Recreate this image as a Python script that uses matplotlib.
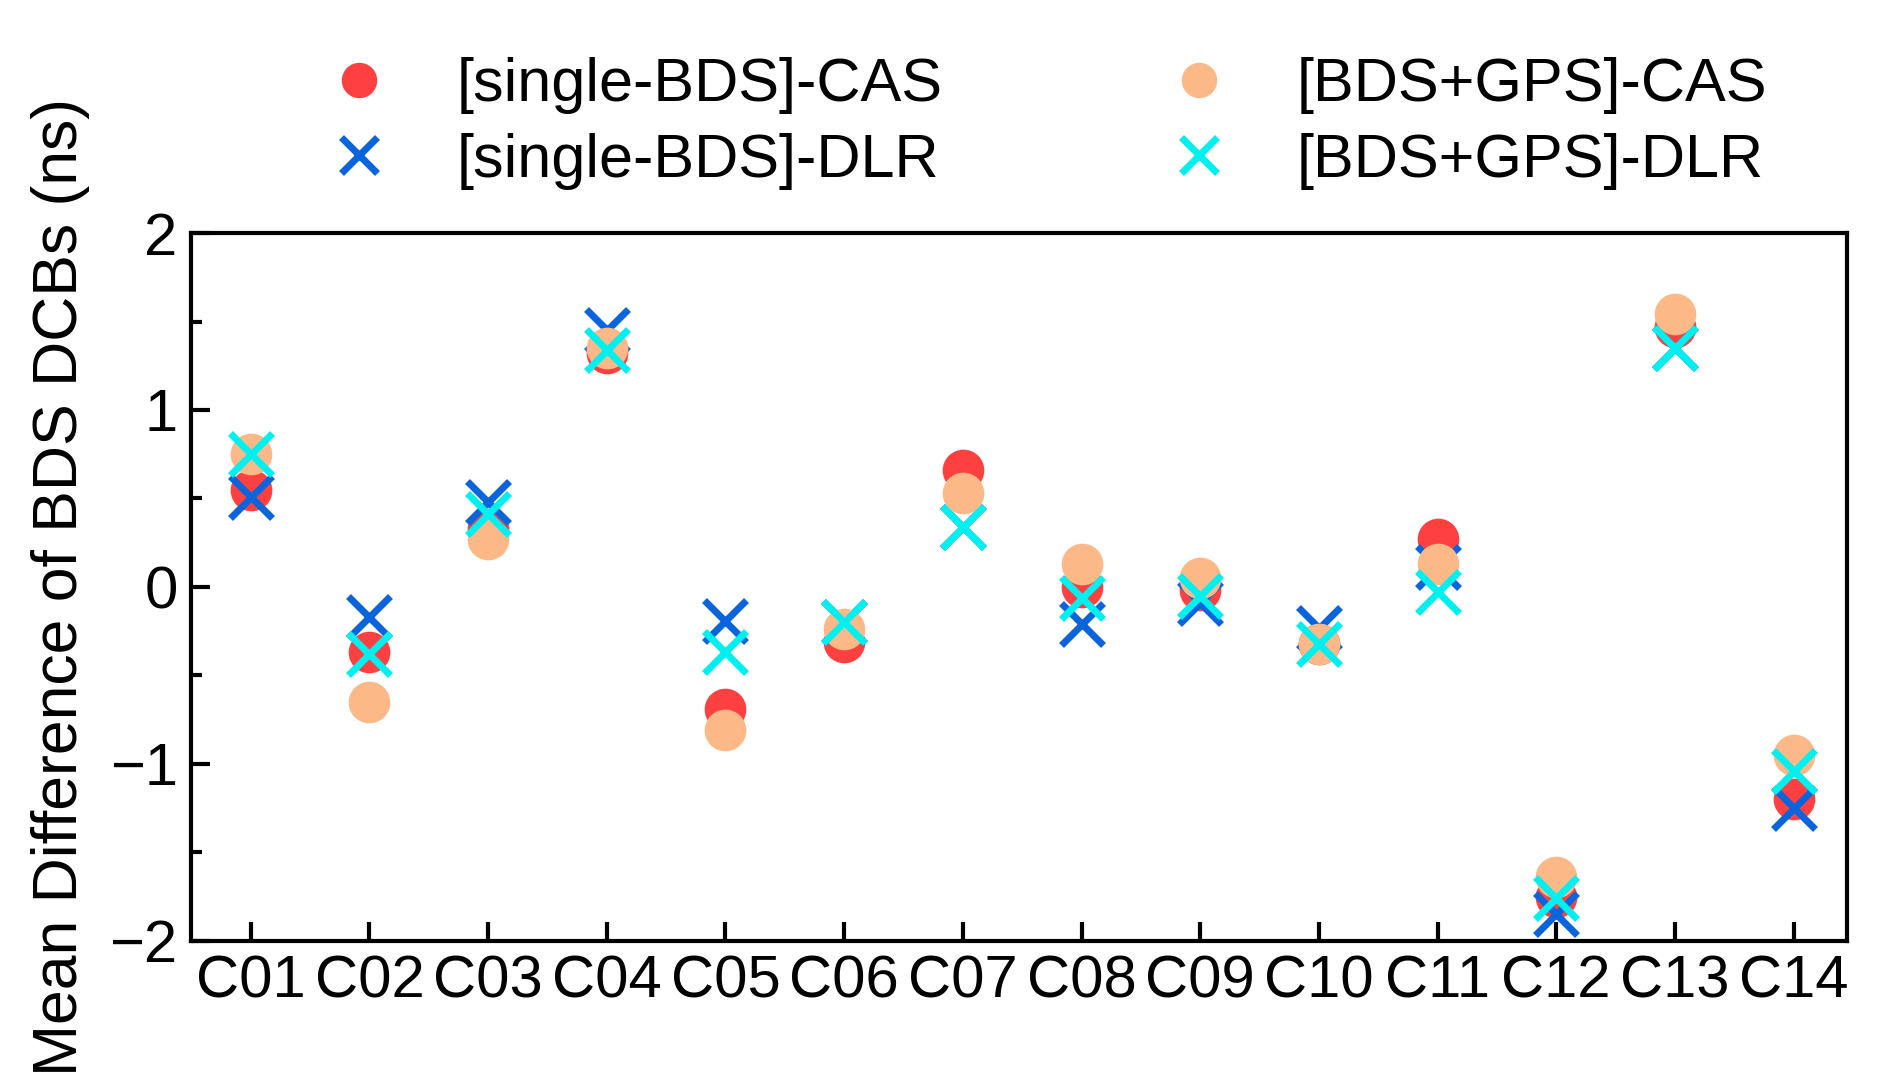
import matplotlib

matplotlib.use("Agg")
import matplotlib.pyplot as plt
from matplotlib.ticker import MultipleLocator

plt.rcParams["font.family"] = ["Liberation Sans", "DejaVu Sans"]

SATS = ["C01", "C02", "C03", "C04", "C05", "C06", "C07", "C08", "C09", "C10", "C11", "C12", "C13", "C14"]
SINGLE_CAS = [0.55, -0.37, 0.33, 1.32, -0.69, -0.31, 0.66, 0.00, -0.02, -0.32, 0.27, -1.75, 1.47, -1.20]
SINGLE_DLR = [0.51, -0.17, 0.48, 1.45, -0.19, -0.20, 0.34, -0.21, -0.09, -0.23, 0.11, -1.85, 1.35, -1.25]
COMB_CAS = [0.75, -0.65, 0.27, 1.35, -0.81, -0.24, 0.53, 0.13, 0.05, -0.32, 0.13, -1.64, 1.54, -0.95]
COMB_DLR = [0.75, -0.38, 0.41, 1.34, -0.37, -0.20, 0.34, -0.06, -0.05, -0.32, -0.03, -1.76, 1.35, -1.04]
YTICKS = [-2, -1, 0, 1, 2]

fig = plt.figure(figsize=(18.77, 10.74), dpi=100)
ax = fig.add_axes([0.102, 0.124, 0.882, 0.659])
x = list(range(1, len(SATS) + 1))

ms = 30
h1, = ax.plot(x, SINGLE_CAS, "o", color="#ff4040", ms=ms, mec="none", label="[single-BDS]-CAS")
h2, = ax.plot(x, SINGLE_DLR, "x", color="#0a64dc", ms=ms, mew=5, label="[single-BDS]-DLR")
h3, = ax.plot(x, COMB_CAS, "o", color="#fdb887", ms=ms, mec="none", label="[BDS+GPS]-CAS")
h4, = ax.plot(x, COMB_DLR, "x", color="#00f0f0", ms=ms, mew=5, label="[BDS+GPS]-DLR")

ax.set_xlim(0.5, 14.45)
ax.set_ylim(-2, 2)
ax.set_xticks(x)
ax.set_xticklabels(SATS)
ax.set_yticks(YTICKS)
ax.set_yticklabels([str(v).replace("-", "\u2212") for v in YTICKS])
ax.yaxis.set_minor_locator(MultipleLocator(0.5))
ax.tick_params(axis="both", which="both", direction="in", width=3, labelsize=43, pad=10)
ax.tick_params(axis="both", which="major", length=14)
ax.tick_params(axis="y", which="minor", length=8)
for sp in ax.spines.values():
    sp.set_linewidth(3)
ax.set_ylabel("Mean Difference of BDS DCBs (ns)", fontsize=45, labelpad=14)

fig.legend(handles=[h1, h2, h3, h4], ncol=2, loc="center", bbox_to_anchor=(0.55, 0.885),
           frameon=False, fontsize=44, columnspacing=3.2, handletextpad=0.6, labelspacing=0.3,
           markerscale=0.85)

fig.savefig("out.png", dpi=100)
